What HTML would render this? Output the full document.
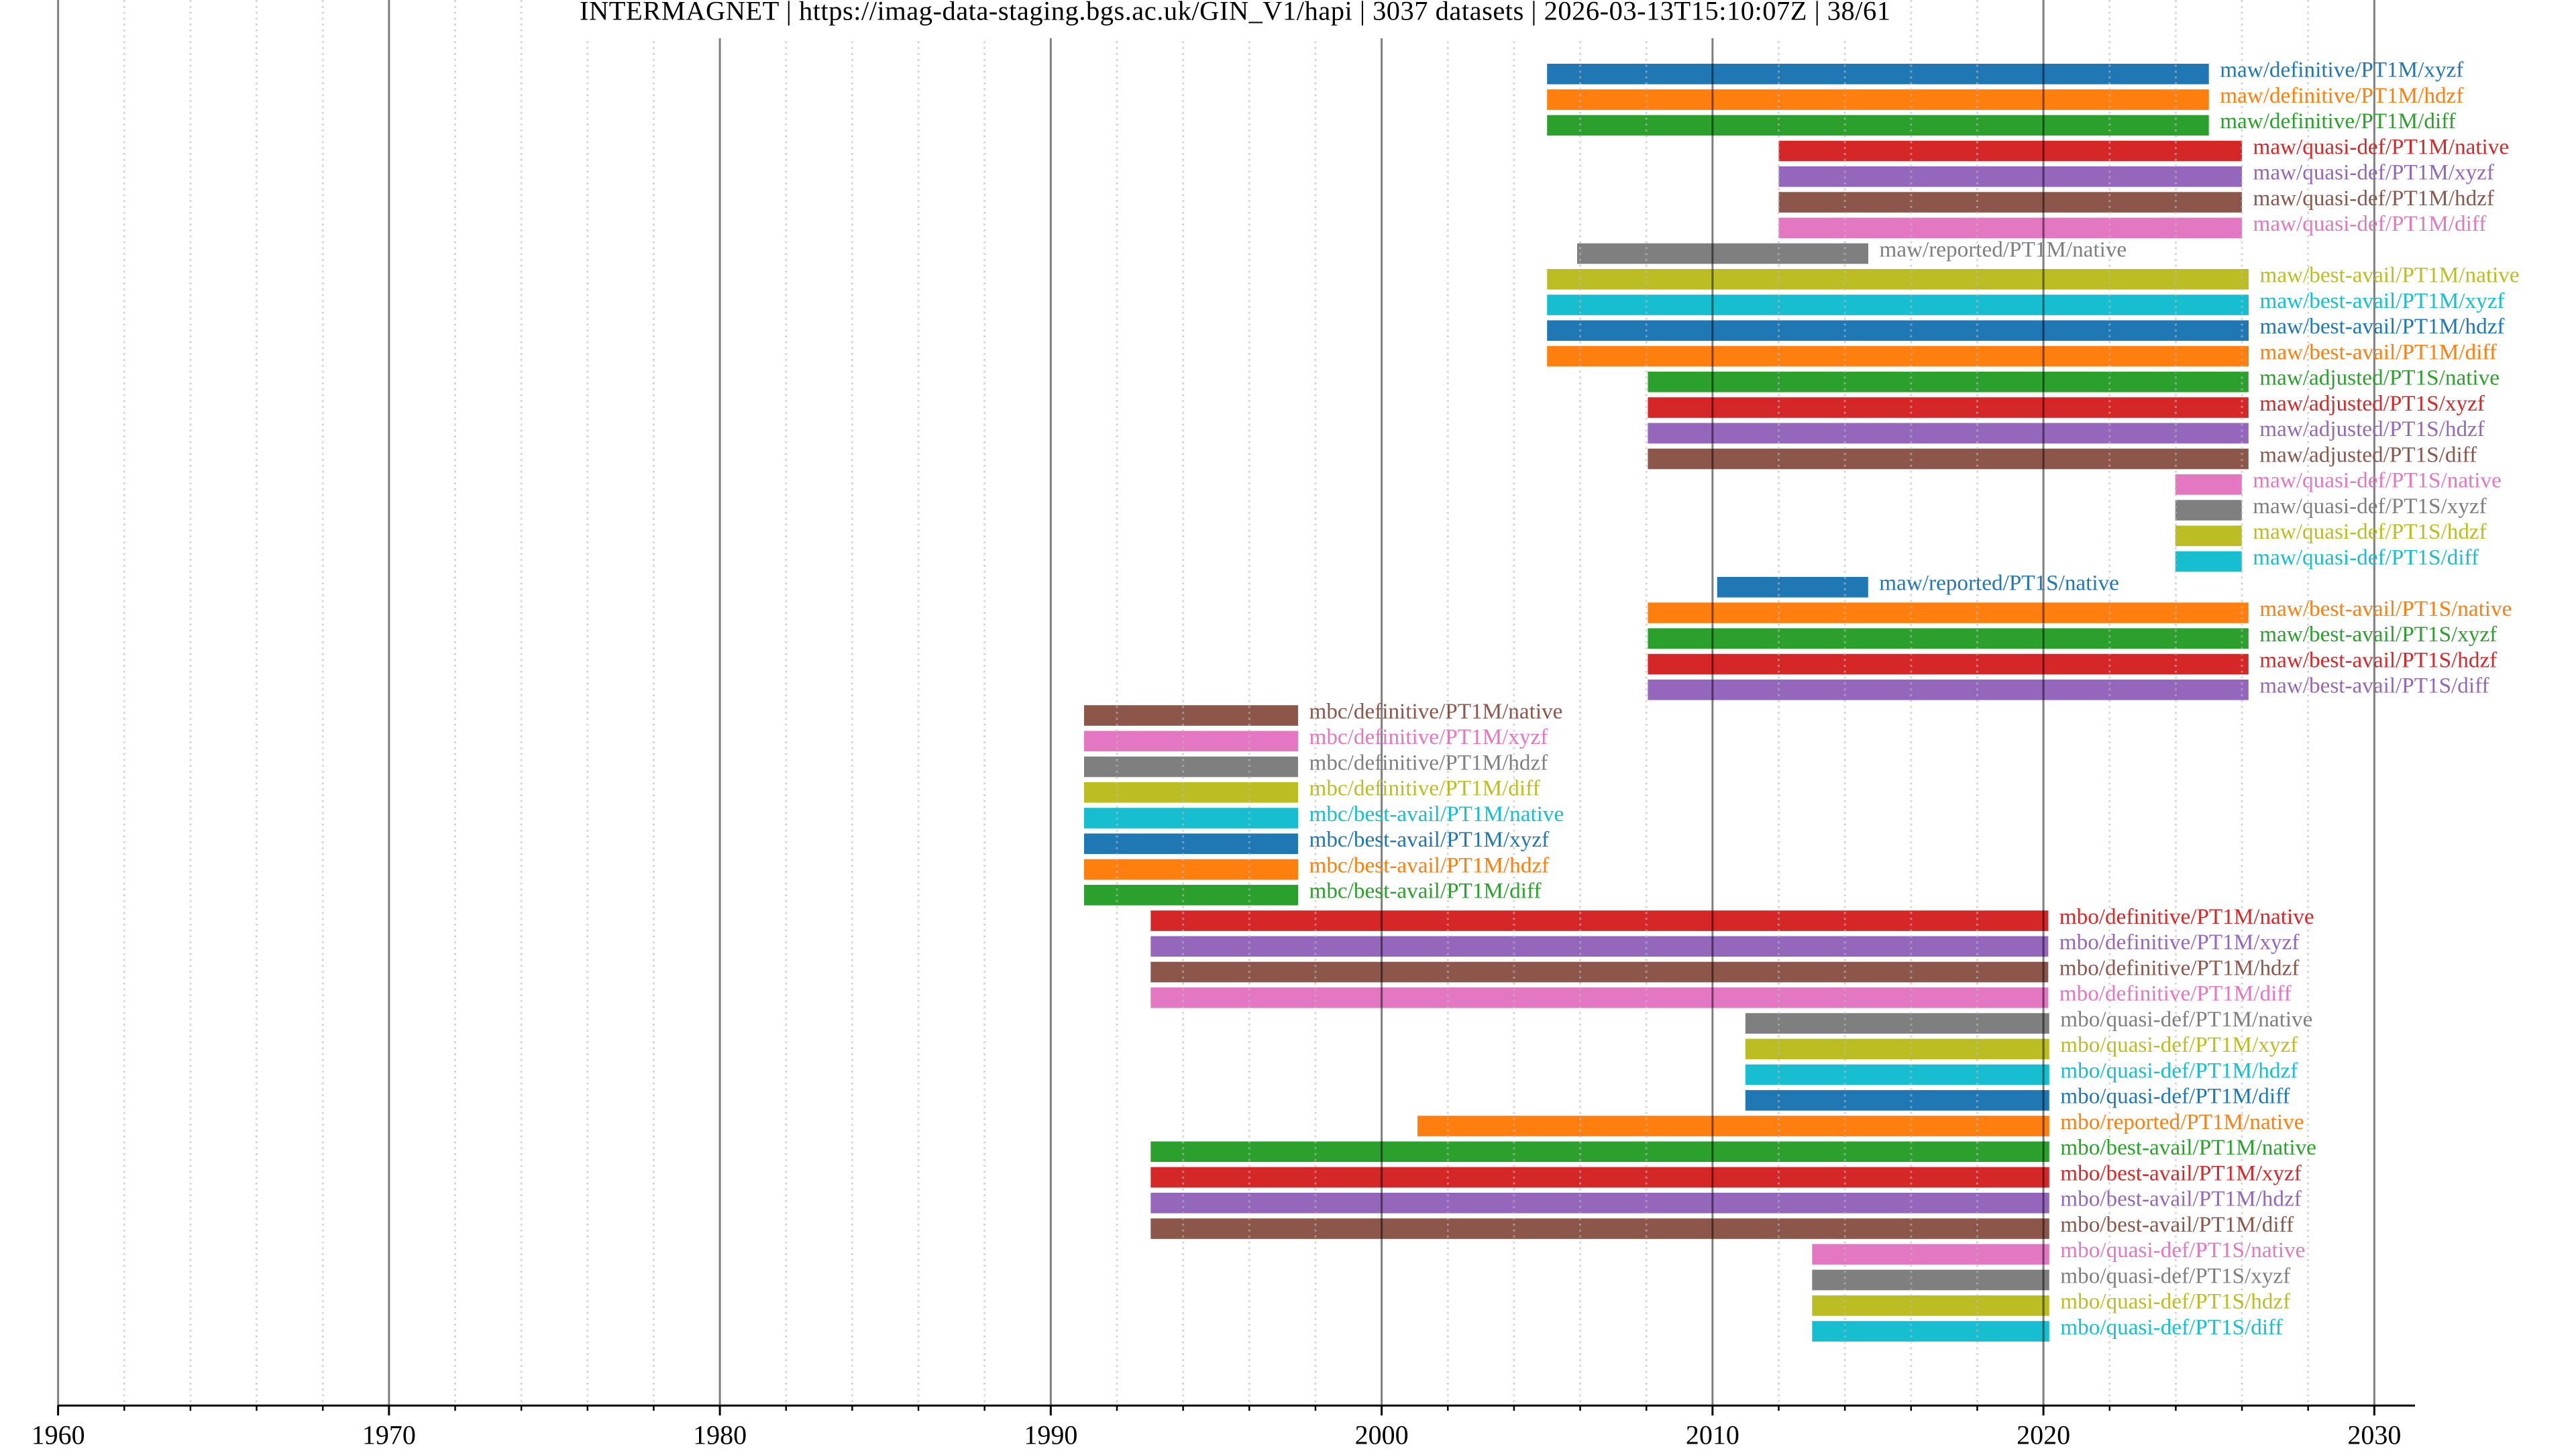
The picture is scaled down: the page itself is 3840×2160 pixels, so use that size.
<!DOCTYPE html>
<html><head><meta charset="utf-8"><style>
html,body{margin:0;padding:0;background:#fff;}
svg{display:block;}
text{font-family:"Liberation Serif","Times New Roman",serif;}
</style></head><body>
<svg width="3840" height="2160" viewBox="0 0 3840 2160" xmlns="http://www.w3.org/2000/svg">
<rect x="0" y="0" width="3840" height="2160" fill="#fff"/>
<g id="bars">
<rect x="2306.2" y="95" width="986.5" height="30.6" fill="#1f77b4"/>
<rect x="2306.2" y="133.25" width="986.5" height="30.6" fill="#ff7f0e"/>
<rect x="2306.2" y="171.5" width="986.5" height="30.6" fill="#2ca02c"/>
<rect x="2651.5" y="209.75" width="690.5" height="30.6" fill="#d62728"/>
<rect x="2651.5" y="248" width="690.5" height="30.6" fill="#9467bd"/>
<rect x="2651.5" y="286.25" width="690.5" height="30.6" fill="#8c564b"/>
<rect x="2651.5" y="324.5" width="690.5" height="30.6" fill="#e377c2"/>
<rect x="2351" y="362.75" width="434" height="30.6" fill="#7f7f7f"/>
<rect x="2306.2" y="401" width="1045.8" height="30.6" fill="#bcbd22"/>
<rect x="2306.2" y="439.25" width="1045.8" height="30.6" fill="#17becf"/>
<rect x="2306.2" y="477.5" width="1045.8" height="30.6" fill="#1f77b4"/>
<rect x="2306.2" y="515.75" width="1045.8" height="30.6" fill="#ff7f0e"/>
<rect x="2456.4" y="554" width="895.4" height="30.6" fill="#2ca02c"/>
<rect x="2456.4" y="592.25" width="895.4" height="30.6" fill="#d62728"/>
<rect x="2456.4" y="630.5" width="895.4" height="30.6" fill="#9467bd"/>
<rect x="2456.4" y="668.75" width="895.4" height="30.6" fill="#8c564b"/>
<rect x="3242.7" y="707" width="99.1" height="30.6" fill="#e377c2"/>
<rect x="3242.7" y="745.25" width="99.1" height="30.6" fill="#7f7f7f"/>
<rect x="3242.7" y="783.5" width="99.1" height="30.6" fill="#bcbd22"/>
<rect x="3242.7" y="821.75" width="99.1" height="30.6" fill="#17becf"/>
<rect x="2559.7" y="860" width="225.1" height="30.6" fill="#1f77b4"/>
<rect x="2456.4" y="898.25" width="895.4" height="30.6" fill="#ff7f0e"/>
<rect x="2456.4" y="936.5" width="895.4" height="30.6" fill="#2ca02c"/>
<rect x="2456.4" y="974.75" width="895.4" height="30.6" fill="#d62728"/>
<rect x="2456.4" y="1013" width="895.4" height="30.6" fill="#9467bd"/>
<rect x="1616" y="1051.25" width="319" height="30.6" fill="#8c564b"/>
<rect x="1616" y="1089.5" width="319" height="30.6" fill="#e377c2"/>
<rect x="1616" y="1127.75" width="319" height="30.6" fill="#7f7f7f"/>
<rect x="1616" y="1166" width="319" height="30.6" fill="#bcbd22"/>
<rect x="1616" y="1204.25" width="319" height="30.6" fill="#17becf"/>
<rect x="1616" y="1242.5" width="319" height="30.6" fill="#1f77b4"/>
<rect x="1616" y="1280.75" width="319" height="30.6" fill="#ff7f0e"/>
<rect x="1616" y="1319" width="319" height="30.6" fill="#2ca02c"/>
<rect x="1715.3" y="1357.25" width="1338" height="30.6" fill="#d62728"/>
<rect x="1715.3" y="1395.5" width="1338" height="30.6" fill="#9467bd"/>
<rect x="1715.3" y="1433.75" width="1338" height="30.6" fill="#8c564b"/>
<rect x="1715.3" y="1472" width="1338" height="30.6" fill="#e377c2"/>
<rect x="2601.8" y="1510.25" width="453" height="30.6" fill="#7f7f7f"/>
<rect x="2601.8" y="1548.5" width="453" height="30.6" fill="#bcbd22"/>
<rect x="2601.8" y="1586.75" width="453" height="30.6" fill="#17becf"/>
<rect x="2601.8" y="1625" width="453" height="30.6" fill="#1f77b4"/>
<rect x="2113" y="1663.25" width="941.8" height="30.6" fill="#ff7f0e"/>
<rect x="1715.3" y="1701.5" width="1339.5" height="30.6" fill="#2ca02c"/>
<rect x="1715.3" y="1739.75" width="1339.5" height="30.6" fill="#d62728"/>
<rect x="1715.3" y="1778" width="1339.5" height="30.6" fill="#9467bd"/>
<rect x="1715.3" y="1816.25" width="1339.5" height="30.6" fill="#8c564b"/>
<rect x="2701.3" y="1854.5" width="353.5" height="30.6" fill="#e377c2"/>
<rect x="2701.3" y="1892.75" width="353.5" height="30.6" fill="#7f7f7f"/>
<rect x="2701.3" y="1931" width="353.5" height="30.6" fill="#bcbd22"/>
<rect x="2701.3" y="1969.25" width="353.5" height="30.6" fill="#17becf"/>
</g>
<!-- minor grid -->
<path d="M185.25 0V2095M283.9 0V2095M382.55 0V2095M481.2 0V2095M678.5 0V2095M777.15 0V2095M875.8 0V2095M974.45 0V2095M1171.75 0V2095M1270.4 0V2095M1369.05 0V2095M1467.7 0V2095M1665 0V2095M1763.65 0V2095M1862.3 0V2095M1960.95 0V2095M2158.25 0V2095M2256.9 0V2095M2355.55 0V2095M2454.2 0V2095M2651.5 0V2095M2750.15 0V2095M2848.8 0V2095M2947.45 0V2095M3144.75 0V2095M3243.4 0V2095M3342.05 0V2095M3440.7 0V2095" stroke="#bbbbbb" stroke-opacity="0.6" stroke-width="3" stroke-dasharray="3 5.77" fill="none"/>
<!-- major grid -->
<path d="M86.6 0V2095M579.85 0V2095M1073.1 0V2095M1566.35 0V2095M2059.6 0V2095M2552.85 0V2095M3046.1 0V2095M3539.35 0V2095" stroke="#000" stroke-opacity="0.5" stroke-width="3" fill="none"/>
<!-- labels -->
<g font-size="33.2">
<text x="3309.2" y="114.5" fill="#1f77b4">maw/definitive/PT1M/xyzf</text>
<text x="3309.2" y="152.75" fill="#ff7f0e">maw/definitive/PT1M/hdzf</text>
<text x="3309.2" y="191" fill="#2ca02c">maw/definitive/PT1M/diff</text>
<text x="3358.5" y="229.25" fill="#d62728">maw/quasi-def/PT1M/native</text>
<text x="3358.5" y="267.5" fill="#9467bd">maw/quasi-def/PT1M/xyzf</text>
<text x="3358.5" y="305.75" fill="#8c564b">maw/quasi-def/PT1M/hdzf</text>
<text x="3358.5" y="344" fill="#e377c2">maw/quasi-def/PT1M/diff</text>
<text x="2801.5" y="382.25" fill="#7f7f7f">maw/reported/PT1M/native</text>
<text x="3368.5" y="420.5" fill="#bcbd22">maw/best-avail/PT1M/native</text>
<text x="3368.5" y="458.75" fill="#17becf">maw/best-avail/PT1M/xyzf</text>
<text x="3368.5" y="497" fill="#1f77b4">maw/best-avail/PT1M/hdzf</text>
<text x="3368.5" y="535.25" fill="#ff7f0e">maw/best-avail/PT1M/diff</text>
<text x="3368.3" y="573.5" fill="#2ca02c">maw/adjusted/PT1S/native</text>
<text x="3368.3" y="611.75" fill="#d62728">maw/adjusted/PT1S/xyzf</text>
<text x="3368.3" y="650" fill="#9467bd">maw/adjusted/PT1S/hdzf</text>
<text x="3368.3" y="688.25" fill="#8c564b">maw/adjusted/PT1S/diff</text>
<text x="3358.3" y="726.5" fill="#e377c2">maw/quasi-def/PT1S/native</text>
<text x="3358.3" y="764.75" fill="#7f7f7f">maw/quasi-def/PT1S/xyzf</text>
<text x="3358.3" y="803" fill="#bcbd22">maw/quasi-def/PT1S/hdzf</text>
<text x="3358.3" y="841.25" fill="#17becf">maw/quasi-def/PT1S/diff</text>
<text x="2801.3" y="879.5" fill="#1f77b4">maw/reported/PT1S/native</text>
<text x="3368.3" y="917.75" fill="#ff7f0e">maw/best-avail/PT1S/native</text>
<text x="3368.3" y="956" fill="#2ca02c">maw/best-avail/PT1S/xyzf</text>
<text x="3368.3" y="994.25" fill="#d62728">maw/best-avail/PT1S/hdzf</text>
<text x="3368.3" y="1032.5" fill="#9467bd">maw/best-avail/PT1S/diff</text>
<text x="1951.5" y="1070.75" fill="#8c564b">mbc/definitive/PT1M/native</text>
<text x="1951.5" y="1109" fill="#e377c2">mbc/definitive/PT1M/xyzf</text>
<text x="1951.5" y="1147.25" fill="#7f7f7f">mbc/definitive/PT1M/hdzf</text>
<text x="1951.5" y="1185.5" fill="#bcbd22">mbc/definitive/PT1M/diff</text>
<text x="1951.5" y="1223.75" fill="#17becf">mbc/best-avail/PT1M/native</text>
<text x="1951.5" y="1262" fill="#1f77b4">mbc/best-avail/PT1M/xyzf</text>
<text x="1951.5" y="1300.25" fill="#ff7f0e">mbc/best-avail/PT1M/hdzf</text>
<text x="1951.5" y="1338.5" fill="#2ca02c">mbc/best-avail/PT1M/diff</text>
<text x="3069.8" y="1376.75" fill="#d62728">mbo/definitive/PT1M/native</text>
<text x="3069.8" y="1415" fill="#9467bd">mbo/definitive/PT1M/xyzf</text>
<text x="3069.8" y="1453.25" fill="#8c564b">mbo/definitive/PT1M/hdzf</text>
<text x="3069.8" y="1491.5" fill="#e377c2">mbo/definitive/PT1M/diff</text>
<text x="3071.3" y="1529.75" fill="#7f7f7f">mbo/quasi-def/PT1M/native</text>
<text x="3071.3" y="1568" fill="#bcbd22">mbo/quasi-def/PT1M/xyzf</text>
<text x="3071.3" y="1606.25" fill="#17becf">mbo/quasi-def/PT1M/hdzf</text>
<text x="3071.3" y="1644.5" fill="#1f77b4">mbo/quasi-def/PT1M/diff</text>
<text x="3071.3" y="1682.75" fill="#ff7f0e">mbo/reported/PT1M/native</text>
<text x="3071.3" y="1721" fill="#2ca02c">mbo/best-avail/PT1M/native</text>
<text x="3071.3" y="1759.25" fill="#d62728">mbo/best-avail/PT1M/xyzf</text>
<text x="3071.3" y="1797.5" fill="#9467bd">mbo/best-avail/PT1M/hdzf</text>
<text x="3071.3" y="1835.75" fill="#8c564b">mbo/best-avail/PT1M/diff</text>
<text x="3071.3" y="1874" fill="#e377c2">mbo/quasi-def/PT1S/native</text>
<text x="3071.3" y="1912.25" fill="#7f7f7f">mbo/quasi-def/PT1S/xyzf</text>
<text x="3071.3" y="1950.5" fill="#bcbd22">mbo/quasi-def/PT1S/hdzf</text>
<text x="3071.3" y="1988.75" fill="#17becf">mbo/quasi-def/PT1S/diff</text>
</g>
<!-- axis -->
<line x1="86.6" y1="2095.3" x2="3600" y2="2095.3" stroke="#000" stroke-width="3"/>
<path d="M86.6 2095V2110M579.85 2095V2110M1073.1 2095V2110M1566.35 2095V2110M2059.6 2095V2110M2552.85 2095V2110M3046.1 2095V2110M3539.35 2095V2110" stroke="#000" stroke-width="3" fill="none"/>
<path d="M185.25 2095V2103M283.9 2095V2103M382.55 2095V2103M481.2 2095V2103M678.5 2095V2103M777.15 2095V2103M875.8 2095V2103M974.45 2095V2103M1171.75 2095V2103M1270.4 2095V2103M1369.05 2095V2103M1467.7 2095V2103M1665 2095V2103M1763.65 2095V2103M1862.3 2095V2103M1960.95 2095V2103M2158.25 2095V2103M2256.9 2095V2103M2355.55 2095V2103M2454.2 2095V2103M2651.5 2095V2103M2750.15 2095V2103M2848.8 2095V2103M2947.45 2095V2103M3144.75 2095V2103M3243.4 2095V2103M3342.05 2095V2103M3440.7 2095V2103" stroke="#000" stroke-width="2.5" fill="none"/>
<g font-size="40" text-anchor="middle" fill="#000">
<text x="86.6" y="2152.5">1960</text>
<text x="579.85" y="2152.5">1970</text>
<text x="1073.1" y="2152.5">1980</text>
<text x="1566.35" y="2152.5">1990</text>
<text x="2059.6" y="2152.5">2000</text>
<text x="2552.85" y="2152.5">2010</text>
<text x="3046.1" y="2152.5">2020</text>
<text x="3539.35" y="2152.5">2030</text>
</g>
<!-- title -->
<rect x="840" y="0" width="2000" height="57" fill="#fff"/>
<text x="864" y="29.5" font-size="40.5" textLength="1954" lengthAdjust="spacing" fill="#000">INTERMAGNET | https://imag-data-staging.bgs.ac.uk/GIN_V1/hapi | 3037 datasets | 2026-03-13T15:10:07Z | 38/61</text>
</svg>
</body></html>
